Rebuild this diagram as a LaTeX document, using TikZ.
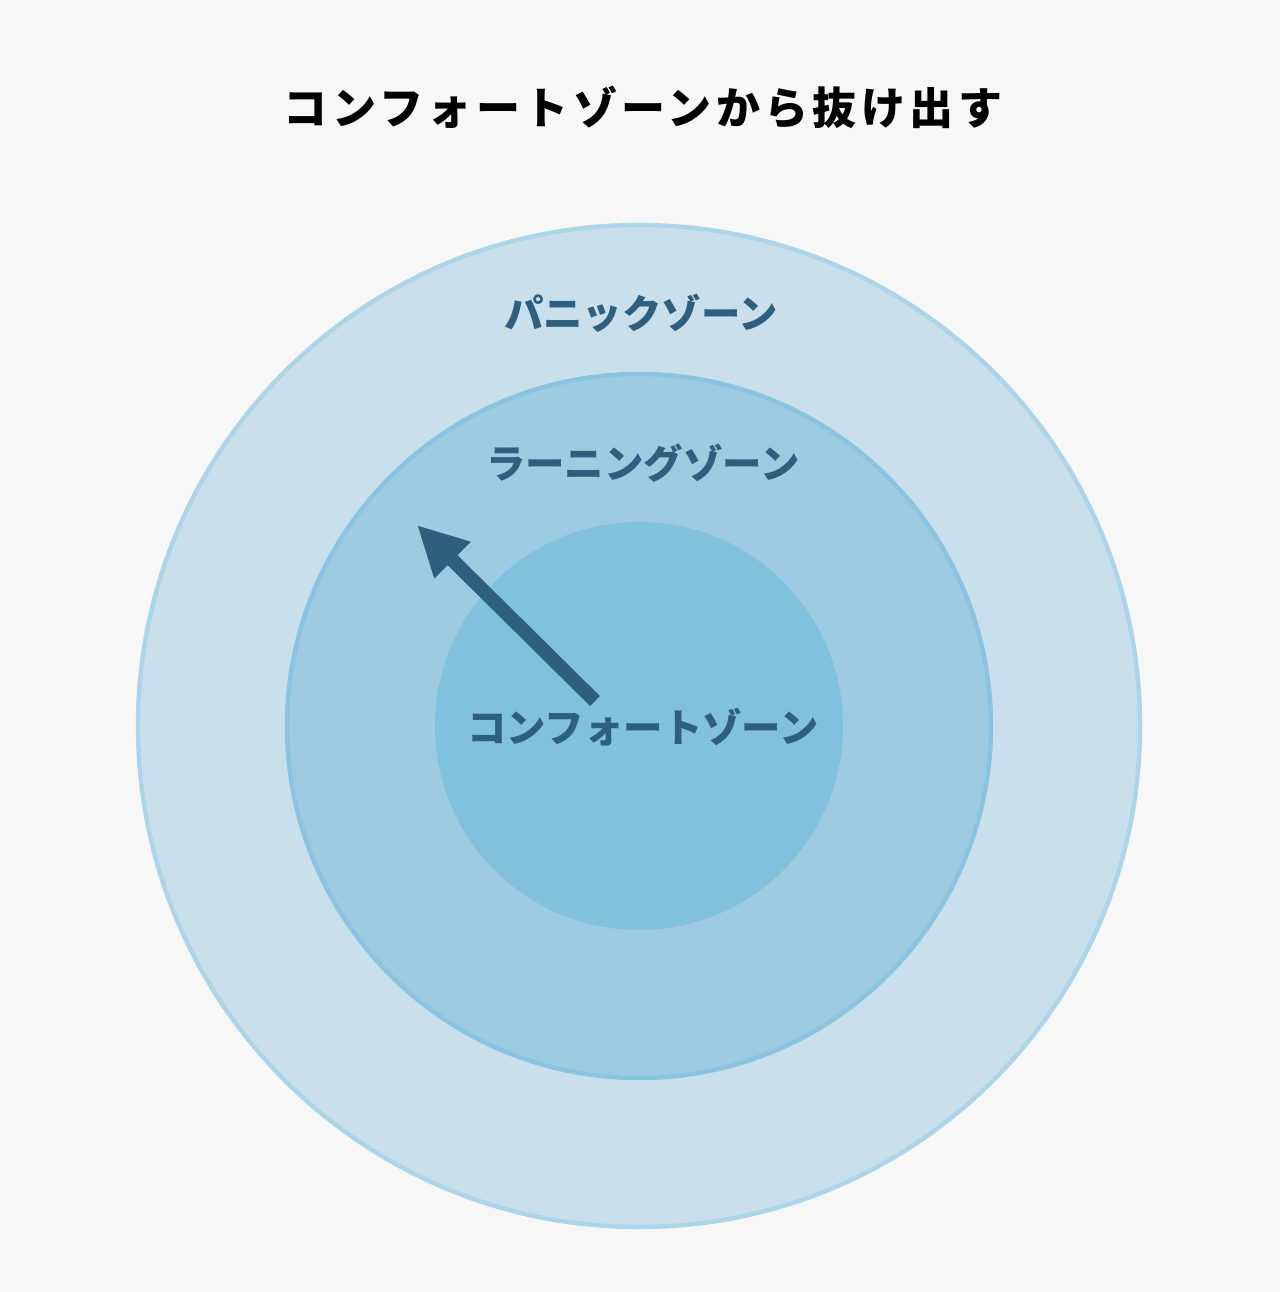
\documentclass[tikz,border=0pt]{standalone}
\usepackage{fontspec}
\newfontfamily\jp{Noto Sans CJK JP}
\newfontfamily\jptitle{Noto Sans CJK JP}[LetterSpace=10]
\usetikzlibrary{arrows.meta}
\definecolor{bg}{HTML}{F7F7F7}
\definecolor{outerfill}{HTML}{C9E0EC}
\definecolor{outerline}{HTML}{ADD5EA}
\definecolor{midfill}{HTML}{9DCBE2}
\definecolor{midline}{HTML}{8AC4E0}
\definecolor{innerfill}{HTML}{82C1DE}
\definecolor{labelc}{HTML}{2E5F7E}
\tikzset{
  zonelabel/.style={font=\jp\bfseries\fontsize{19.7pt}{22pt}\selectfont, text=labelc, inner sep=0pt},
  titlelabel/.style={font=\jptitle\bfseries\fontsize{22pt}{26pt}\selectfont, text=black, inner sep=0pt},
  movearrow/.style={draw=labelc, line width=7pt, -{Triangle[length=25pt,width=24pt]}}
}
\begin{document}
\begin{tikzpicture}[x=0.5pt,y=-0.5pt]
\fill[bg] (0,0) rectangle (1280,1292);
\useasboundingbox (0,0) rectangle (1280,1292);
\filldraw[fill=outerfill, draw=outerline, line width=2.2pt] (639,726) circle[radius=501];
\filldraw[fill=midfill, draw=midline, line width=2.2pt] (639,726) circle[radius=352];
\fill[innerfill] (639,726) circle[radius=204];
\node[titlelabel] (title) at (643,107) {コンフォートゾーンから抜け出す};
\node[zonelabel] (panic) at (641,313) {パニックゾーン};
\node[zonelabel] (learn) at (643,463) {ラーニングゾーン};
\coordinate (from) at (595,701);
\coordinate (to) at (417,525);
\draw[movearrow] (from) -- (to);
\node[zonelabel] (comfort) at (643,727) {コンフォートゾーン};
\end{tikzpicture}
\end{document}
